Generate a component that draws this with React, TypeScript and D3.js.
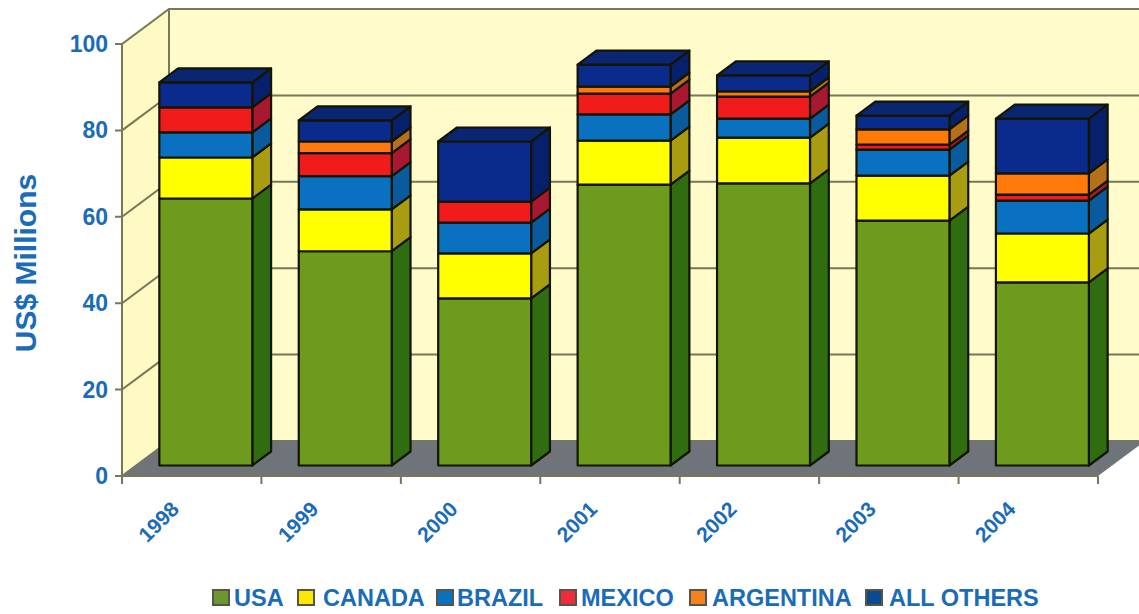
import React from "react";
import * as d3 from "d3";

const years = ["1998", "1999", "2000", "2001", "2002", "2003", "2004"];
const seriesNames = ["USA", "CANADA", "BRAZIL", "MEXICO", "ARGENTINA", "ALL OTHERS"];

const usa = [61.8, 49.6, 38.7, 65.0, 65.3, 56.7, 42.4];
const canada = [9.5, 9.7, 10.4, 10.2, 10.6, 10.4, 11.3];
const brazil = [5.8, 7.7, 7.1, 6.1, 4.4, 6.0, 7.6];
const mexico = [5.8, 5.3, 4.9, 4.8, 5.1, 1.2, 1.4];
const argentina = [0, 2.7, 0, 1.6, 1.2, 3.5, 4.9];
const allOthers = [5.8, 4.9, 13.9, 5.1, 3.7, 3.2, 12.7];
const seriesValues = [usa, canada, brazil, mexico, argentina, allOthers];

const yTicks = [0, 20, 40, 60, 80, 100];

const frontColors = ["#6c9b1e", "#ffff00", "#0a70c0", "#f01c1c", "#ff7a0a", "#0a2a8c"];
const sideColors = ["#2f6d10", "#a89c10", "#0a5a9e", "#a81830", "#b5701c", "#07206c"];
const legendColors = ["#6c9630", "#ffe800", "#0a70c0", "#ee2c3c", "#f5821e", "#0a4a90"];
const legendSwatchX = [213, 298, 437, 560, 690, 866];
const legendTextX = [234, 323, 457, 581, 712, 889];

const width = 1139;
const height = 614;
const blue = "#1a6cb8";
const wallLine = "#77775a";

// the box: front plane of the floor, and how far the back wall is shifted from it
const x = d3.scaleBand<string>().domain(years).range([122, 1098]).paddingInner(1 / 3).paddingOuter(1 / 6);
const y = d3.scaleLinear().domain([0, 100]).range([476, 44]);
const depthX = 47;
const depthY = -35;
const barStart = 0.3; // bars stand in the middle of the floor
const barDepth = 0.4;

const rows = years.map((year, i) => {
  const row: Record<string, number | string> = { year };
  seriesNames.forEach((name, s) => {
    row[name] = seriesValues[s][i];
  });
  return row;
});
const stacked = d3.stack<Record<string, number | string>>().keys(seriesNames)(rows as any);

const poly = (pts: [number, number][]) => {
  const p = d3.path();
  pts.forEach((pt, i) => (i === 0 ? p.moveTo(pt[0], pt[1]) : p.lineTo(pt[0], pt[1])));
  p.closePath();
  return p.toString();
};

const App = () => {
  const left = x.range()[0];
  const right = x.range()[1];
  const zero = y(0);
  const top = y(100);
  const dx0 = depthX * barStart;
  const dy0 = depthY * barStart;
  const sx = depthX * barDepth;
  const sy = depthY * barDepth;

  return (
    <svg width={width} height={height} style={{ position: "absolute", left: 0, top: 0, background: "#fff" }}>
      {/* walls */}
      <path
        d={poly([[left, zero], [left, top], [left + depthX, top + depthY], [left + depthX, zero + depthY]])}
        fill="#fffac4"
      />
      <rect x={left + depthX} y={top + depthY} width={width} height={zero - top} fill="#fffbcb" />

      {/* gridlines */}
      {yTicks.map((t) => (
        <g key={t} stroke={wallLine} strokeWidth={2} fill="none">
          <path d={`M${left - 7},${y(t)}H${left}L${left + depthX},${y(t) + depthY}H${width}`} />
        </g>
      ))}
      <line x1={left} x2={left} y1={top} y2={zero} stroke={wallLine} strokeWidth={2} />
      <line x1={left + depthX} x2={left + depthX} y1={top + depthY} y2={zero + depthY} stroke={wallLine} strokeWidth={2} />

      {/* floor */}
      <path
        d={poly([[left, zero], [left + depthX, zero + depthY], [right + depthX, zero + depthY], [right, zero]])}
        fill="#6f737a"
      />
      <line x1={left} x2={right} y1={zero} y2={zero} stroke={wallLine} strokeWidth={2} />
      {[...years.map((d) => x(d)! - x.step() * (1 / 6)), right].map((tx, i) => (
        <line key={i} x1={tx} x2={tx} y1={zero} y2={zero + 8} stroke={wallLine} strokeWidth={2} />
      ))}

      {/* bars */}
      {years.map((year, i) => {
        const x0 = x(year)! + dx0;
        const x1 = x0 + x.bandwidth();
        const topValue = stacked[stacked.length - 1][i][1];
        return (
          <g key={year} stroke="#141400" strokeWidth={2.2} strokeLinejoin="round">
            {stacked.map((layer, s) => {
              const [a, b] = layer[i];
              if (b - a <= 0) return null;
              const yA = y(a) + dy0;
              const yB = y(b) + dy0;
              return (
                <g key={s}>
                  <path
                    d={poly([[x1, yA], [x1, yB], [x1 + sx, yB + sy], [x1 + sx, yA + sy]])}
                    fill={sideColors[s]}
                  />
                  <path d={poly([[x0, yA], [x0, yB], [x1, yB], [x1, yA]])} fill={frontColors[s]} />
                </g>
              );
            })}
            <path
              d={poly([
                [x0, y(topValue) + dy0],
                [x0 + sx, y(topValue) + dy0 + sy],
                [x1 + sx, y(topValue) + dy0 + sy],
                [x1, y(topValue) + dy0],
              ])}
              fill="#0a2672"
            />
          </g>
        );
      })}

      {/* axis labels */}
      <g fontFamily="Liberation Sans" fontWeight="bold" fill={blue}>
        {yTicks.map((t) => (
          <text key={t} x={108} y={y(t) + 8} fontSize={23} textAnchor="end">
            {t}
          </text>
        ))}
        {years.map((year) => {
          const cx = x(year)! + x.bandwidth() / 2 - 28;
          return (
            <text key={year} fontSize={21} textAnchor="middle" transform={`translate(${cx},527) rotate(-45)`}>
              {year}
            </text>
          );
        })}
        <text fontSize={30} textAnchor="middle" transform="translate(36,263) rotate(-90)">
          US$ Millions
        </text>
      </g>

      {/* legend */}
      {seriesNames.map((name, s) => (
        <g key={name}>
          <rect
            x={legendSwatchX[s]}
            y={590}
            width={16}
            height={15}
            fill={legendColors[s]}
            stroke="#55554a"
            strokeWidth={2}
          />
          <text
            x={legendTextX[s]}
            y={606}
            fontFamily="Liberation Sans"
            fontWeight="bold"
            fontSize={23.5}
            fill={blue}
          >
            {name}
          </text>
        </g>
      ))}
    </svg>
  );
};

export default App;
